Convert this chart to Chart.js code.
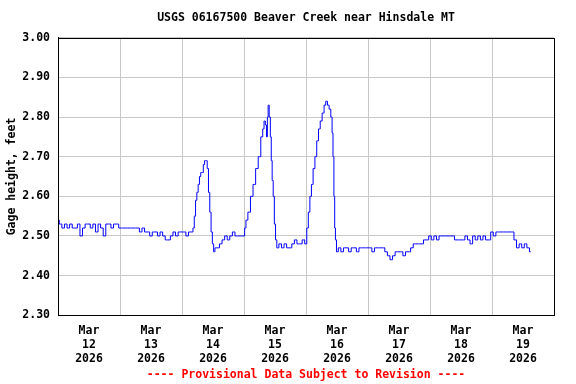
<!DOCTYPE html>
<html>
<head>
<meta charset="utf-8">
<script src="https://cdn.jsdelivr.net/npm/chart.js@4/dist/chart.umd.min.js"></script>
<style>
  html, body { margin: 0; padding: 0; background: #fff; }
</style>
</head>
<body>
<canvas id="gage" width="576" height="384"></canvas>
<script>
// hours since Mar 12 2026 00:00 and gage height (ft)
var obsHours = [
  0, 1, 2, 3, 4, 5, 6, 7, 8, 9, 10, 11, 12, 13, 14, 15, 16, 17, 18, 19, 20, 21, 22, 23,
  24, 25, 26, 27, 28, 29, 30, 31, 32, 33, 34, 35, 36, 37, 38, 39, 40, 41, 42, 43, 44, 45, 46, 47,
  48, 49, 50, 51, 52, 52.5, 53, 53.5, 54, 54.5, 55, 55.5, 56, 56.5, 57, 57.5, 58, 58.5, 59, 59.5, 60, 60.5,
  61, 62, 63, 64, 65, 66, 67, 68, 69, 70, 71, 72, 72.5, 73, 74, 75, 76, 77, 78, 79, 79.5, 80, 80.5, 80.9,
  81.2, 81.5, 82, 82.4, 82.7, 83.1, 83.5, 84, 84.4, 85, 86, 87, 88, 89, 90, 91, 92, 93, 94, 95, 96,
  96.6, 97.2, 97.8, 98.4, 99.1, 99.8, 100.5, 101.2, 101.8, 102.7, 103.3, 104, 104.6, 105.3, 105.9, 106.3,
  106.6, 107, 107.2, 107.6, 108, 109, 110, 111, 112, 113, 114, 115, 116, 117, 118, 119,
  120, 121, 122, 123, 124, 125, 126, 127, 128, 129, 130, 131, 132, 133, 134, 135, 136, 137, 138, 139, 140, 141, 142, 143,
  144, 145, 146, 147, 148, 149, 150, 151, 152, 153, 154, 155, 156, 157, 158, 159, 160, 161, 162, 163, 164, 165, 166, 167,
  168, 169, 170, 171, 172, 173, 174, 175, 176, 177, 178, 179, 180, 181, 182, 183
];
var gageFeet = [
  2.54, 2.53, 2.52, 2.53, 2.52, 2.53, 2.52, 2.52, 2.53, 2.50, 2.52, 2.53, 2.53, 2.52, 2.53, 2.51, 2.53, 2.52, 2.50, 2.53, 2.53, 2.52, 2.53, 2.53,
  2.52, 2.52, 2.52, 2.52, 2.52, 2.52, 2.52, 2.52, 2.51, 2.52, 2.51, 2.51, 2.50, 2.51, 2.51, 2.50, 2.51, 2.50, 2.49, 2.49, 2.50, 2.51, 2.50, 2.51,
  2.51, 2.51, 2.50, 2.51, 2.51, 2.52, 2.55, 2.59, 2.61, 2.63, 2.65, 2.66, 2.66, 2.68, 2.69, 2.69, 2.67, 2.61, 2.56, 2.51, 2.48, 2.46,
  2.47, 2.47, 2.48, 2.49, 2.50, 2.49, 2.50, 2.51, 2.50, 2.50, 2.50, 2.50, 2.52, 2.54, 2.56, 2.60, 2.63, 2.67, 2.70, 2.75, 2.77, 2.79, 2.78, 2.75,
  2.80, 2.83, 2.80, 2.75, 2.69, 2.64, 2.60, 2.53, 2.49, 2.47, 2.48, 2.47, 2.48, 2.47, 2.47, 2.48, 2.49, 2.48, 2.48, 2.49, 2.48,
  2.52, 2.56, 2.60, 2.63, 2.67, 2.70, 2.74, 2.77, 2.79, 2.81, 2.83, 2.84, 2.83, 2.82, 2.80, 2.76,
  2.70, 2.60, 2.52, 2.49, 2.46, 2.47, 2.46, 2.47, 2.47, 2.46, 2.47, 2.47, 2.46, 2.47, 2.47, 2.47,
  2.47, 2.47, 2.46, 2.47, 2.47, 2.47, 2.47, 2.46, 2.45, 2.44, 2.45, 2.46, 2.46, 2.46, 2.45, 2.46, 2.46, 2.47, 2.48, 2.48, 2.48, 2.48, 2.49, 2.49,
  2.50, 2.49, 2.50, 2.49, 2.50, 2.50, 2.50, 2.50, 2.50, 2.50, 2.49, 2.49, 2.49, 2.49, 2.50, 2.49, 2.48, 2.50, 2.49, 2.50, 2.49, 2.50, 2.49, 2.49,
  2.51, 2.50, 2.51, 2.51, 2.51, 2.51, 2.51, 2.51, 2.51, 2.49, 2.47, 2.48, 2.47, 2.48, 2.47, 2.46
];
var monthLabel = 'Mar';
var yearLabel = '2026';
var dayLabels = ['12', '13', '14', '15', '16', '17', '18', '19'];

var points = obsHours.map(function (h, i) { return { x: h, y: gageFeet[i] }; });

Chart.defaults.font.family = "'DejaVu Sans Mono', monospace";
Chart.defaults.font.size = 11.5;
Chart.defaults.font.weight = 'bold';
Chart.defaults.color = '#000';

// box round the plot area (top and right sides are not axes),
// and centre title / note over the plot rather than the whole canvas
var frame = {
  id: 'frame',
  afterLayout: function (chart) {
    var a = chart.chartArea;
    chart.boxes.forEach(function (b) {
      if (b.options && typeof b.options.text === 'string' && b.isHorizontal && b.isHorizontal()) {
        b.left = a.left;
        b.right = a.right;
        b.width = a.right - a.left;
      }
    });
  },
  afterDraw: function (chart) {
    var a = chart.chartArea, c = chart.ctx;
    c.save();
    c.strokeStyle = '#000';
    c.lineWidth = 1;
    c.strokeRect(Math.round(a.left) + 0.5, Math.round(a.top) + 0.5,
      Math.round(a.right - a.left), Math.round(a.bottom - a.top));
    c.restore();
  }
};

new Chart(document.getElementById('gage'), {
  type: 'line',
  data: {
    datasets: [{
      data: points,
      borderColor: '#0000ff',
      borderWidth: 1,
      pointRadius: 0,
      stepped: 'middle',
      fill: false
    }]
  },
  options: {
    responsive: false,
    animation: false,
    layout: { padding: { left: 0, right: 22, top: 0, bottom: 0 } },
    plugins: {
      legend: { display: false },
      tooltip: { enabled: false },
      title: {
        display: true,
        text: 'USGS 06167500 Beaver Creek near Hinsdale MT',
        padding: { top: 11, bottom: 13 },
        font: { size: 11.5, weight: 'bold' }
      },
      subtitle: {
        display: true,
        position: 'bottom',
        text: '---- Provisional Data Subject to Revision ----',
        color: '#ff0000',
        padding: { top: 0, bottom: 2 },
        font: { size: 11.5, weight: 'bold' }
      }
    },
    scales: {
      x: {
        type: 'linear',
        min: 0,
        max: 192,
        afterBuildTicks: function (scale) {
          var t = [];
          for (var h = 0; h <= 192; h += 12) t.push({ value: h });
          scale.ticks = t;
        },
        afterFit: function (scale) { scale.height = 53; },
        ticks: {
          autoSkip: false,
          maxRotation: 0,
          padding: 9,
          callback: function (v) {
            if (v % 24 !== 12) return '';
            return [monthLabel, dayLabels[(v - 12) / 24], yearLabel];
          }
        },
        grid: {
          drawTicks: false,
          tickLength: 0,
          color: function (ctx) {
            var v = ctx.tick ? ctx.tick.value : 0;
            return (v % 24 === 0 && v > 0 && v < 192) ? '#c8c8c8' : 'rgba(0,0,0,0)';
          }
        },
        border: { color: '#000', width: 1 }
      },
      y: {
        min: 2.3,
        max: 3.0,
        afterFit: function (scale) { scale.width = 58; },
        ticks: {
          stepSize: 0.1,
          padding: 8,
          callback: function (v) { return Number(v).toFixed(2); }
        },
        title: {
          display: true,
          text: 'Gage height, feet',
          padding: { top: 5, bottom: 0 },
          font: { size: 11.5, weight: 'bold' }
        },
        grid: { drawTicks: false, tickLength: 0, color: '#c8c8c8' },
        border: { color: '#000', width: 1 }
      }
    }
  },
  plugins: [frame]
});
</script>
</body>
</html>
